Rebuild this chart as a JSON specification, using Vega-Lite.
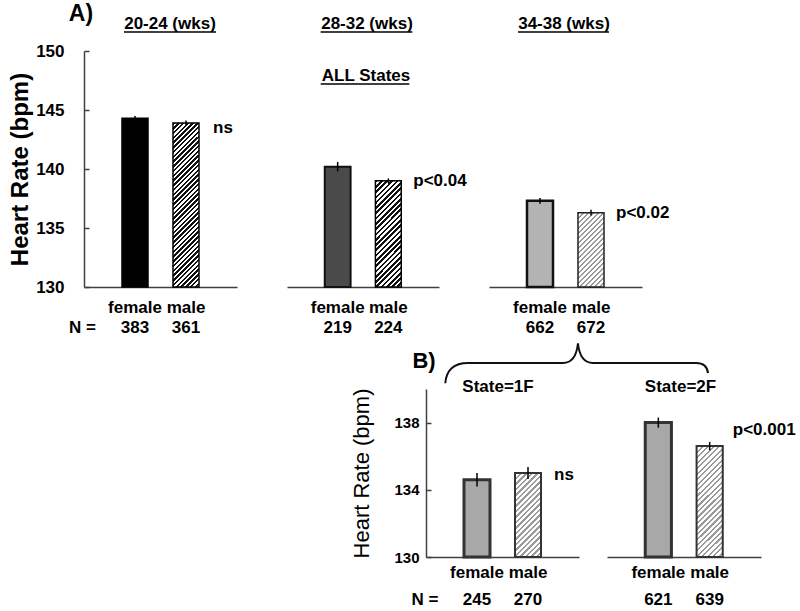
{
  "$schema": "https://vega.github.io/schema/vega-lite/v6.json",
  "padding": {"left": 8, "top": 3, "right": 5, "bottom": 5},
  "config": {
    "font": "Liberation Sans",
    "view": {"stroke": null},
    "axis": {"grid": false, "domainColor": "#404040", "domainWidth": 1.5, "tickColor": "#404040", "tickWidth": 1.5, "labelColor": "#000", "titleColor": "#000", "labelFontWeight": "bold", "labelOverlap": false},
    "axisY": {"labelOverlap": false},
    "axisQuantitative": {"labelOverlap": false},
    "text": {"font": "Liberation Sans", "fontWeight": "bold", "fontSize": 17, "color": "#000", "baseline": "alphabetic"}
  },
  "datasets": {
    "hr": [
      {"panel": "A", "group": "20-24 (wks)", "sex": "female", "hr": 144.3, "err": 0.2, "n": 383},
      {"panel": "A", "group": "20-24 (wks)", "sex": "male", "hr": 143.9, "err": 0.2, "n": 361, "sig": "ns"},
      {"panel": "A", "group": "28-32 (wks)", "sex": "female", "hr": 140.2, "err": 0.4, "n": 219},
      {"panel": "A", "group": "28-32 (wks)", "sex": "male", "hr": 139.0, "err": 0.2, "n": 224, "sig": "p<0.04"},
      {"panel": "A", "group": "34-38 (wks)", "sex": "female", "hr": 137.3, "err": 0.25, "n": 662},
      {"panel": "A", "group": "34-38 (wks)", "sex": "male", "hr": 136.3, "err": 0.25, "n": 672, "sig": "p<0.02"},
      {"panel": "B", "group": "State=1F", "sex": "female", "hr": 134.6, "err": 0.4, "n": 245},
      {"panel": "B", "group": "State=1F", "sex": "male", "hr": 135.0, "err": 0.35, "n": 270, "sig": "ns"},
      {"panel": "B", "group": "State=2F", "sex": "female", "hr": 138.0, "err": 0.3, "n": 621},
      {"panel": "B", "group": "State=2F", "sex": "male", "hr": 136.6, "err": 0.25, "n": 639, "sig": "p<0.001"}
    ]
  },
  "vconcat": [
    {
      "hconcat": [
        {
          "width": 153, "height": 236,
          "data": {"name": "hr"},
          "transform": [{"filter": "datum.group === '20-24 (wks)'"}],
          "layer": [
            {"transform": [{"filter": "datum.sex === 'female'"}],
             "mark": {"type": "bar", "fill": "#000", "stroke": "#000", "strokeWidth": 1.5},
             "encoding": {
               "x": {"field": "sex", "type": "nominal", "scale": {"domain": ["female", "male"], "paddingInner": 0.49, "paddingOuter": 0.745}, "axis": {"title": null, "ticks": false, "labelAngle": 0, "labelFontSize": 17, "labelPadding": 12}},
               "y": {"field": "hr", "type": "quantitative", "title": "Heart Rate (bpm)", "scale": {"domain": [130, 150], "zero": false, "nice": false}, "axis": {"title": "Heart Rate (bpm)", "titleFontSize": 24, "titleFontWeight": "bold", "labelFontSize": 17, "values": [130, 135, 140, 145, 150], "labelOverlap": false, "tickSize": -5, "labelPadding": 25, "titlePadding": 3}},
               "y2": {"datum": 130}
             }},
            {"transform": [{"filter": "datum.sex === 'male'"}],
             "mark": {"type": "bar", "stroke": "#000", "strokeWidth": 1.5, "fill": {"gradient": "linear", "x1": 0, "y1": 0, "x2": 0.179, "y2": 1.13, "stops": [
               {"offset":0,"color":"#111"},{"offset":0.0125,"color":"#111"},{"offset":0.0125,"color":"#fff"},{"offset":0.025,"color":"#fff"},
               {"offset":0.025,"color":"#111"},{"offset":0.0375,"color":"#111"},{"offset":0.0375,"color":"#fff"},{"offset":0.05,"color":"#fff"},
               {"offset":0.05,"color":"#111"},{"offset":0.0625,"color":"#111"},{"offset":0.0625,"color":"#fff"},{"offset":0.075,"color":"#fff"},
               {"offset":0.075,"color":"#111"},{"offset":0.0875,"color":"#111"},{"offset":0.0875,"color":"#fff"},{"offset":0.1,"color":"#fff"},
               {"offset":0.1,"color":"#111"},{"offset":0.1125,"color":"#111"},{"offset":0.1125,"color":"#fff"},{"offset":0.125,"color":"#fff"},
               {"offset":0.125,"color":"#111"},{"offset":0.1375,"color":"#111"},{"offset":0.1375,"color":"#fff"},{"offset":0.15,"color":"#fff"},
               {"offset":0.15,"color":"#111"},{"offset":0.1625,"color":"#111"},{"offset":0.1625,"color":"#fff"},{"offset":0.175,"color":"#fff"},
               {"offset":0.175,"color":"#111"},{"offset":0.1875,"color":"#111"},{"offset":0.1875,"color":"#fff"},{"offset":0.2,"color":"#fff"},
               {"offset":0.2,"color":"#111"},{"offset":0.2125,"color":"#111"},{"offset":0.2125,"color":"#fff"},{"offset":0.225,"color":"#fff"},
               {"offset":0.225,"color":"#111"},{"offset":0.2375,"color":"#111"},{"offset":0.2375,"color":"#fff"},{"offset":0.25,"color":"#fff"},
               {"offset":0.25,"color":"#111"},{"offset":0.2625,"color":"#111"},{"offset":0.2625,"color":"#fff"},{"offset":0.275,"color":"#fff"},
               {"offset":0.275,"color":"#111"},{"offset":0.2875,"color":"#111"},{"offset":0.2875,"color":"#fff"},{"offset":0.3,"color":"#fff"},
               {"offset":0.3,"color":"#111"},{"offset":0.3125,"color":"#111"},{"offset":0.3125,"color":"#fff"},{"offset":0.325,"color":"#fff"},
               {"offset":0.325,"color":"#111"},{"offset":0.3375,"color":"#111"},{"offset":0.3375,"color":"#fff"},{"offset":0.35,"color":"#fff"},
               {"offset":0.35,"color":"#111"},{"offset":0.3625,"color":"#111"},{"offset":0.3625,"color":"#fff"},{"offset":0.375,"color":"#fff"},
               {"offset":0.375,"color":"#111"},{"offset":0.3875,"color":"#111"},{"offset":0.3875,"color":"#fff"},{"offset":0.4,"color":"#fff"},
               {"offset":0.4,"color":"#111"},{"offset":0.4125,"color":"#111"},{"offset":0.4125,"color":"#fff"},{"offset":0.425,"color":"#fff"},
               {"offset":0.425,"color":"#111"},{"offset":0.4375,"color":"#111"},{"offset":0.4375,"color":"#fff"},{"offset":0.45,"color":"#fff"},
               {"offset":0.45,"color":"#111"},{"offset":0.4625,"color":"#111"},{"offset":0.4625,"color":"#fff"},{"offset":0.475,"color":"#fff"},
               {"offset":0.475,"color":"#111"},{"offset":0.4875,"color":"#111"},{"offset":0.4875,"color":"#fff"},{"offset":0.5,"color":"#fff"},
               {"offset":0.5,"color":"#111"},{"offset":0.5125,"color":"#111"},{"offset":0.5125,"color":"#fff"},{"offset":0.525,"color":"#fff"},
               {"offset":0.525,"color":"#111"},{"offset":0.5375,"color":"#111"},{"offset":0.5375,"color":"#fff"},{"offset":0.55,"color":"#fff"},
               {"offset":0.55,"color":"#111"},{"offset":0.5625,"color":"#111"},{"offset":0.5625,"color":"#fff"},{"offset":0.575,"color":"#fff"},
               {"offset":0.575,"color":"#111"},{"offset":0.5875,"color":"#111"},{"offset":0.5875,"color":"#fff"},{"offset":0.6,"color":"#fff"},
               {"offset":0.6,"color":"#111"},{"offset":0.6125,"color":"#111"},{"offset":0.6125,"color":"#fff"},{"offset":0.625,"color":"#fff"},
               {"offset":0.625,"color":"#111"},{"offset":0.6375,"color":"#111"},{"offset":0.6375,"color":"#fff"},{"offset":0.65,"color":"#fff"},
               {"offset":0.65,"color":"#111"},{"offset":0.6625,"color":"#111"},{"offset":0.6625,"color":"#fff"},{"offset":0.675,"color":"#fff"},
               {"offset":0.675,"color":"#111"},{"offset":0.6875,"color":"#111"},{"offset":0.6875,"color":"#fff"},{"offset":0.7,"color":"#fff"},
               {"offset":0.7,"color":"#111"},{"offset":0.7125,"color":"#111"},{"offset":0.7125,"color":"#fff"},{"offset":0.725,"color":"#fff"},
               {"offset":0.725,"color":"#111"},{"offset":0.7375,"color":"#111"},{"offset":0.7375,"color":"#fff"},{"offset":0.75,"color":"#fff"},
               {"offset":0.75,"color":"#111"},{"offset":0.7625,"color":"#111"},{"offset":0.7625,"color":"#fff"},{"offset":0.775,"color":"#fff"},
               {"offset":0.775,"color":"#111"},{"offset":0.7875,"color":"#111"},{"offset":0.7875,"color":"#fff"},{"offset":0.8,"color":"#fff"},
               {"offset":0.8,"color":"#111"},{"offset":0.8125,"color":"#111"},{"offset":0.8125,"color":"#fff"},{"offset":0.825,"color":"#fff"},
               {"offset":0.825,"color":"#111"},{"offset":0.8375,"color":"#111"},{"offset":0.8375,"color":"#fff"},{"offset":0.85,"color":"#fff"},
               {"offset":0.85,"color":"#111"},{"offset":0.8625,"color":"#111"},{"offset":0.8625,"color":"#fff"},{"offset":0.875,"color":"#fff"},
               {"offset":0.875,"color":"#111"},{"offset":0.8875,"color":"#111"},{"offset":0.8875,"color":"#fff"},{"offset":0.9,"color":"#fff"},
               {"offset":0.9,"color":"#111"},{"offset":0.9125,"color":"#111"},{"offset":0.9125,"color":"#fff"},{"offset":0.925,"color":"#fff"},
               {"offset":0.925,"color":"#111"},{"offset":0.9375,"color":"#111"},{"offset":0.9375,"color":"#fff"},{"offset":0.95,"color":"#fff"},
               {"offset":0.95,"color":"#111"},{"offset":0.9625,"color":"#111"},{"offset":0.9625,"color":"#fff"},{"offset":0.975,"color":"#fff"},
               {"offset":0.975,"color":"#111"},{"offset":0.9875,"color":"#111"},{"offset":0.9875,"color":"#fff"},{"offset":1,"color":"#fff"}
             ]}},
             "encoding": {"x": {"field": "sex", "type": "nominal"}, "y": {"field": "hr", "type": "quantitative", "title": "Heart Rate (bpm)", "scale": {"domain": [130, 150], "zero": false, "nice": false}}, "y2": {"datum": 130}}},
            {"mark": {"type": "errorbar", "ticks": false, "rule": {"stroke": "#000", "strokeWidth": 1.5}},
             "encoding": {"x": {"field": "sex", "type": "nominal"}, "y": {"field": "hr", "type": "quantitative", "title": "Heart Rate (bpm)", "scale": {"domain": [130, 150], "zero": false, "nice": false}}, "yError": {"field": "err"}}},
            {"transform": [{"filter": "datum.sex === 'female'"}],
             "mark": {"type": "text", "dx": 9.5},
             "encoding": {"y": {"datum": 151.86, "type": "quantitative", "scale": {"domain": [130, 150], "zero": false, "nice": false}}, "text": {"field": "group"}}},
            {"transform": [{"filter": "datum.sex === 'female'"}],
             "mark": {"type": "rule", "xOffset": -11, "x2Offset": 30, "stroke": "#000", "strokeWidth": 1.5},
             "encoding": {"x": {"datum": "female"}, "x2": {"datum": "male"}, "y": {"datum": 151.61, "type": "quantitative", "scale": {"domain": [130, 150], "zero": false, "nice": false}}}},
            {"transform": [{"filter": "datum.sex === 'female'"}],
             "mark": {"type": "text", "text": "A)", "fontSize": 23, "dx": -79.5},
             "encoding": {"y": {"datum": 152.54, "type": "quantitative", "scale": {"domain": [130, 150], "zero": false, "nice": false}}}},
            {"transform": [{"filter": "datum.sig"}],
             "mark": {"type": "text", "align": "left", "dx": 14},
             "encoding": {"x": {"field": "sex", "type": "nominal", "bandPosition": 1}, "y": {"datum": 143.05, "type": "quantitative", "scale": {"domain": [130, 150], "zero": false, "nice": false}}, "text": {"field": "sig"}}},
            {"mark": {"type": "text"},
             "encoding": {"x": {"field": "sex", "type": "nominal"}, "y": {"datum": 126.1, "type": "quantitative", "scale": {"domain": [130, 150], "zero": false, "nice": false}}, "text": {"field": "n"}}},
            {"transform": [{"filter": "datum.sex === 'female'"}],
             "mark": {"type": "text", "text": "N =", "dx": -78},
             "encoding": {"y": {"datum": 126.1, "type": "quantitative", "scale": {"domain": [130, 150], "zero": false, "nice": false}}}}
          ]
        },
        {
          "width": 152, "height": 236,
          "data": {"name": "hr"},
          "transform": [{"filter": "datum.group === '28-32 (wks)'"}],
          "layer": [
            {"transform": [{"filter": "datum.sex === 'female'"}],
             "mark": {"type": "bar", "fill": "#4a4a4a", "stroke": "#111", "strokeWidth": 2},
             "encoding": {
               "x": {"field": "sex", "type": "nominal", "scale": {"domain": ["female", "male"], "paddingInner": 0.49, "paddingOuter": 0.745}, "axis": {"title": null, "ticks": false, "labelAngle": 0, "labelFontSize": 17, "labelPadding": 12}},
               "y": {"field": "hr", "type": "quantitative", "scale": {"domain": [130, 150], "zero": false, "nice": false}, "axis": null},
               "y2": {"datum": 130}
             }},
            {"transform": [{"filter": "datum.sex === 'male'"}],
             "mark": {"type": "bar", "stroke": "#000", "strokeWidth": 1.5, "fill": {"gradient": "linear", "x1": 0, "y1": 0, "x2": 0.2876, "y2": 1.1745, "stops": [
               {"offset":0,"color":"#111"},{"offset":0.02,"color":"#111"},{"offset":0.02,"color":"#fff"},{"offset":0.04,"color":"#fff"},
               {"offset":0.04,"color":"#111"},{"offset":0.06,"color":"#111"},{"offset":0.06,"color":"#fff"},{"offset":0.08,"color":"#fff"},
               {"offset":0.08,"color":"#111"},{"offset":0.1,"color":"#111"},{"offset":0.1,"color":"#fff"},{"offset":0.12,"color":"#fff"},
               {"offset":0.12,"color":"#111"},{"offset":0.14,"color":"#111"},{"offset":0.14,"color":"#fff"},{"offset":0.16,"color":"#fff"},
               {"offset":0.16,"color":"#111"},{"offset":0.18,"color":"#111"},{"offset":0.18,"color":"#fff"},{"offset":0.2,"color":"#fff"},
               {"offset":0.2,"color":"#111"},{"offset":0.22,"color":"#111"},{"offset":0.22,"color":"#fff"},{"offset":0.24,"color":"#fff"},
               {"offset":0.24,"color":"#111"},{"offset":0.26,"color":"#111"},{"offset":0.26,"color":"#fff"},{"offset":0.28,"color":"#fff"},
               {"offset":0.28,"color":"#111"},{"offset":0.3,"color":"#111"},{"offset":0.3,"color":"#fff"},{"offset":0.32,"color":"#fff"},
               {"offset":0.32,"color":"#111"},{"offset":0.34,"color":"#111"},{"offset":0.34,"color":"#fff"},{"offset":0.36,"color":"#fff"},
               {"offset":0.36,"color":"#111"},{"offset":0.38,"color":"#111"},{"offset":0.38,"color":"#fff"},{"offset":0.4,"color":"#fff"},
               {"offset":0.4,"color":"#111"},{"offset":0.42,"color":"#111"},{"offset":0.42,"color":"#fff"},{"offset":0.44,"color":"#fff"},
               {"offset":0.44,"color":"#111"},{"offset":0.46,"color":"#111"},{"offset":0.46,"color":"#fff"},{"offset":0.48,"color":"#fff"},
               {"offset":0.48,"color":"#111"},{"offset":0.5,"color":"#111"},{"offset":0.5,"color":"#fff"},{"offset":0.52,"color":"#fff"},
               {"offset":0.52,"color":"#111"},{"offset":0.54,"color":"#111"},{"offset":0.54,"color":"#fff"},{"offset":0.56,"color":"#fff"},
               {"offset":0.56,"color":"#111"},{"offset":0.58,"color":"#111"},{"offset":0.58,"color":"#fff"},{"offset":0.6,"color":"#fff"},
               {"offset":0.6,"color":"#111"},{"offset":0.62,"color":"#111"},{"offset":0.62,"color":"#fff"},{"offset":0.64,"color":"#fff"},
               {"offset":0.64,"color":"#111"},{"offset":0.66,"color":"#111"},{"offset":0.66,"color":"#fff"},{"offset":0.68,"color":"#fff"},
               {"offset":0.68,"color":"#111"},{"offset":0.7,"color":"#111"},{"offset":0.7,"color":"#fff"},{"offset":0.72,"color":"#fff"},
               {"offset":0.72,"color":"#111"},{"offset":0.74,"color":"#111"},{"offset":0.74,"color":"#fff"},{"offset":0.76,"color":"#fff"},
               {"offset":0.76,"color":"#111"},{"offset":0.78,"color":"#111"},{"offset":0.78,"color":"#fff"},{"offset":0.8,"color":"#fff"},
               {"offset":0.8,"color":"#111"},{"offset":0.82,"color":"#111"},{"offset":0.82,"color":"#fff"},{"offset":0.84,"color":"#fff"},
               {"offset":0.84,"color":"#111"},{"offset":0.86,"color":"#111"},{"offset":0.86,"color":"#fff"},{"offset":0.88,"color":"#fff"},
               {"offset":0.88,"color":"#111"},{"offset":0.9,"color":"#111"},{"offset":0.9,"color":"#fff"},{"offset":0.92,"color":"#fff"},
               {"offset":0.92,"color":"#111"},{"offset":0.94,"color":"#111"},{"offset":0.94,"color":"#fff"},{"offset":0.96,"color":"#fff"},
               {"offset":0.96,"color":"#111"},{"offset":0.98,"color":"#111"},{"offset":0.98,"color":"#fff"},{"offset":1,"color":"#fff"}
             ]}},
             "encoding": {"x": {"field": "sex", "type": "nominal"}, "y": {"field": "hr", "type": "quantitative", "scale": {"domain": [130, 150], "zero": false, "nice": false}, "axis": null}, "y2": {"datum": 130}}},
            {"mark": {"type": "errorbar", "ticks": false, "rule": {"stroke": "#000", "strokeWidth": 1.5}},
             "encoding": {"x": {"field": "sex", "type": "nominal"}, "y": {"field": "hr", "type": "quantitative", "scale": {"domain": [130, 150], "zero": false, "nice": false}, "axis": null}, "yError": {"field": "err"}}},
            {"transform": [{"filter": "datum.sex === 'female'"}],
             "mark": {"type": "text", "dx": 4},
             "encoding": {"y": {"datum": 151.86, "type": "quantitative", "scale": {"domain": [130, 150], "zero": false, "nice": false}, "axis": null}, "text": {"field": "group"}}},
            {"transform": [{"filter": "datum.sex === 'female'"}],
             "mark": {"type": "rule", "xOffset": -17, "x2Offset": 24, "stroke": "#000", "strokeWidth": 1.5},
             "encoding": {"x": {"datum": "female"}, "x2": {"datum": "male"}, "y": {"datum": 151.61, "type": "quantitative", "scale": {"domain": [130, 150], "zero": false, "nice": false}, "axis": null}}},
            {"transform": [{"filter": "datum.sex === 'female'"}],
             "mark": {"type": "text", "text": "ALL States", "dx": 3},
             "encoding": {"y": {"datum": 147.46, "type": "quantitative", "scale": {"domain": [130, 150], "zero": false, "nice": false}, "axis": null}}},
            {"transform": [{"filter": "datum.sex === 'female'"}],
             "mark": {"type": "rule", "xOffset": -17, "x2Offset": 21, "stroke": "#000", "strokeWidth": 1.5},
             "encoding": {"x": {"datum": "female"}, "x2": {"datum": "male"}, "y": {"datum": 147.2, "type": "quantitative", "scale": {"domain": [130, 150], "zero": false, "nice": false}, "axis": null}}},
            {"transform": [{"filter": "datum.sig"}],
             "mark": {"type": "text", "align": "left", "dx": 12},
             "encoding": {"x": {"field": "sex", "type": "nominal", "bandPosition": 1}, "y": {"datum": 138.56, "type": "quantitative", "scale": {"domain": [130, 150], "zero": false, "nice": false}, "axis": null}, "text": {"field": "sig"}}},
            {"mark": {"type": "text"},
             "encoding": {"x": {"field": "sex", "type": "nominal"}, "y": {"datum": 126.1, "type": "quantitative", "scale": {"domain": [130, 150], "zero": false, "nice": false}, "axis": null}, "text": {"field": "n"}}}
          ]
        },
        {
          "width": 153, "height": 236,
          "data": {"name": "hr"},
          "transform": [{"filter": "datum.group === '34-38 (wks)'"}],
          "layer": [
            {"transform": [{"filter": "datum.sex === 'female'"}],
             "mark": {"type": "bar", "fill": "#b3b3b3", "stroke": "#111", "strokeWidth": 2.5},
             "encoding": {
               "x": {"field": "sex", "type": "nominal", "scale": {"domain": ["female", "male"], "paddingInner": 0.49, "paddingOuter": 0.745}, "axis": {"title": null, "ticks": false, "labelAngle": 0, "labelFontSize": 17, "labelPadding": 12}},
               "y": {"field": "hr", "type": "quantitative", "scale": {"domain": [130, 150], "zero": false, "nice": false}, "axis": null},
               "y2": {"datum": 130}
             }},
            {"transform": [{"filter": "datum.sex === 'male'"}],
             "mark": {"type": "bar", "stroke": "#222", "strokeWidth": 1.5, "fill": {"gradient": "linear", "x1": 0, "y1": 0, "x2": 0.4208, "y2": 1.2027, "stops": [
               {"offset":0,"color":"#9a9a9a"},{"offset":0.02,"color":"#9a9a9a"},{"offset":0.02,"color":"#fff"},{"offset":0.05,"color":"#fff"},
               {"offset":0.05,"color":"#9a9a9a"},{"offset":0.07,"color":"#9a9a9a"},{"offset":0.07,"color":"#fff"},{"offset":0.1,"color":"#fff"},
               {"offset":0.1,"color":"#9a9a9a"},{"offset":0.12,"color":"#9a9a9a"},{"offset":0.12,"color":"#fff"},{"offset":0.15,"color":"#fff"},
               {"offset":0.15,"color":"#9a9a9a"},{"offset":0.17,"color":"#9a9a9a"},{"offset":0.17,"color":"#fff"},{"offset":0.2,"color":"#fff"},
               {"offset":0.2,"color":"#9a9a9a"},{"offset":0.22,"color":"#9a9a9a"},{"offset":0.22,"color":"#fff"},{"offset":0.25,"color":"#fff"},
               {"offset":0.25,"color":"#9a9a9a"},{"offset":0.27,"color":"#9a9a9a"},{"offset":0.27,"color":"#fff"},{"offset":0.3,"color":"#fff"},
               {"offset":0.3,"color":"#9a9a9a"},{"offset":0.32,"color":"#9a9a9a"},{"offset":0.32,"color":"#fff"},{"offset":0.35,"color":"#fff"},
               {"offset":0.35,"color":"#9a9a9a"},{"offset":0.37,"color":"#9a9a9a"},{"offset":0.37,"color":"#fff"},{"offset":0.4,"color":"#fff"},
               {"offset":0.4,"color":"#9a9a9a"},{"offset":0.42,"color":"#9a9a9a"},{"offset":0.42,"color":"#fff"},{"offset":0.45,"color":"#fff"},
               {"offset":0.45,"color":"#9a9a9a"},{"offset":0.47,"color":"#9a9a9a"},{"offset":0.47,"color":"#fff"},{"offset":0.5,"color":"#fff"},
               {"offset":0.5,"color":"#9a9a9a"},{"offset":0.52,"color":"#9a9a9a"},{"offset":0.52,"color":"#fff"},{"offset":0.55,"color":"#fff"},
               {"offset":0.55,"color":"#9a9a9a"},{"offset":0.57,"color":"#9a9a9a"},{"offset":0.57,"color":"#fff"},{"offset":0.6,"color":"#fff"},
               {"offset":0.6,"color":"#9a9a9a"},{"offset":0.62,"color":"#9a9a9a"},{"offset":0.62,"color":"#fff"},{"offset":0.65,"color":"#fff"},
               {"offset":0.65,"color":"#9a9a9a"},{"offset":0.67,"color":"#9a9a9a"},{"offset":0.67,"color":"#fff"},{"offset":0.7,"color":"#fff"},
               {"offset":0.7,"color":"#9a9a9a"},{"offset":0.72,"color":"#9a9a9a"},{"offset":0.72,"color":"#fff"},{"offset":0.75,"color":"#fff"},
               {"offset":0.75,"color":"#9a9a9a"},{"offset":0.77,"color":"#9a9a9a"},{"offset":0.77,"color":"#fff"},{"offset":0.8,"color":"#fff"},
               {"offset":0.8,"color":"#9a9a9a"},{"offset":0.82,"color":"#9a9a9a"},{"offset":0.82,"color":"#fff"},{"offset":0.85,"color":"#fff"},
               {"offset":0.85,"color":"#9a9a9a"},{"offset":0.87,"color":"#9a9a9a"},{"offset":0.87,"color":"#fff"},{"offset":0.9,"color":"#fff"},
               {"offset":0.9,"color":"#9a9a9a"},{"offset":0.92,"color":"#9a9a9a"},{"offset":0.92,"color":"#fff"},{"offset":0.95,"color":"#fff"},
               {"offset":0.95,"color":"#9a9a9a"},{"offset":0.97,"color":"#9a9a9a"},{"offset":0.97,"color":"#fff"},{"offset":1,"color":"#fff"}
             ]}},
             "encoding": {"x": {"field": "sex", "type": "nominal"}, "y": {"field": "hr", "type": "quantitative", "scale": {"domain": [130, 150], "zero": false, "nice": false}, "axis": null}, "y2": {"datum": 130}}},
            {"mark": {"type": "errorbar", "ticks": false, "rule": {"stroke": "#000", "strokeWidth": 1.5}},
             "encoding": {"x": {"field": "sex", "type": "nominal"}, "y": {"field": "hr", "type": "quantitative", "scale": {"domain": [130, 150], "zero": false, "nice": false}, "axis": null}, "yError": {"field": "err"}}},
            {"transform": [{"filter": "datum.sex === 'female'"}],
             "mark": {"type": "text", "dx": -1.5},
             "encoding": {"y": {"datum": 151.86, "type": "quantitative", "scale": {"domain": [130, 150], "zero": false, "nice": false}, "axis": null}, "text": {"field": "group"}}},
            {"transform": [{"filter": "datum.sex === 'female'"}],
             "mark": {"type": "rule", "xOffset": -22, "x2Offset": 18, "stroke": "#000", "strokeWidth": 1.5},
             "encoding": {"x": {"datum": "female"}, "x2": {"datum": "male"}, "y": {"datum": 151.61, "type": "quantitative", "scale": {"domain": [130, 150], "zero": false, "nice": false}, "axis": null}}},
            {"transform": [{"filter": "datum.sig"}],
             "mark": {"type": "text", "align": "left", "dx": 12},
             "encoding": {"x": {"field": "sex", "type": "nominal", "bandPosition": 1}, "y": {"datum": 135.85, "type": "quantitative", "scale": {"domain": [130, 150], "zero": false, "nice": false}, "axis": null}, "text": {"field": "sig"}}},
            {"mark": {"type": "text"},
             "encoding": {"x": {"field": "sex", "type": "nominal"}, "y": {"datum": 126.1, "type": "quantitative", "scale": {"domain": [130, 150], "zero": false, "nice": false}, "axis": null}, "text": {"field": "n"}}}
          ]
        }
      ],
      "spacing": 50,
      "bounds": "flush"
    },
    {
      "hconcat": [
        {
          "width": 314, "height": 168,
          "data": {"values": [{}]},
          "mark": {"type": "text", "text": ""}
        },
        {
          "width": 153, "height": 168,
          "data": {"name": "hr"},
          "transform": [{"filter": "datum.group === 'State=1F'"}],
          "layer": [
            {"transform": [{"filter": "datum.sex === 'female'"}],
             "mark": {"type": "bar", "fill": "#a8a8a8", "stroke": "#333", "strokeWidth": 3},
             "encoding": {
               "x": {"field": "sex", "type": "nominal", "scale": {"domain": ["female", "male"], "paddingInner": 0.49, "paddingOuter": 0.745}, "axis": {"title": null, "ticks": false, "labelAngle": 0, "labelFontSize": 17, "labelPadding": 7}},
               "y": {"field": "hr", "type": "quantitative", "title": "Heart Rate (bpm)", "scale": {"domain": [130, 140], "zero": false, "nice": false}, "axis": {"title": "Heart Rate (bpm)", "titleFontSize": 22, "titleFontWeight": "normal", "labelFontSize": 15, "values": [130, 132, 134, 136, 138, 140], "labelOverlap": false, "labelBound": false, "tickSize": -5, "labelPadding": 12, "titlePadding": 20}},
               "y2": {"datum": 130}
             }},
            {"transform": [{"filter": "datum.sex === 'male'"}],
             "mark": {"type": "bar", "stroke": "#333", "strokeWidth": 2, "fill": {"gradient": "linear", "x1": 0, "y1": 0, "x2": 0.37, "y2": 1.195, "stops": [
               {"offset":0,"color":"#9a9a9a"},{"offset":0.02,"color":"#9a9a9a"},{"offset":0.02,"color":"#fff"},{"offset":0.05,"color":"#fff"},
               {"offset":0.05,"color":"#9a9a9a"},{"offset":0.07,"color":"#9a9a9a"},{"offset":0.07,"color":"#fff"},{"offset":0.1,"color":"#fff"},
               {"offset":0.1,"color":"#9a9a9a"},{"offset":0.12,"color":"#9a9a9a"},{"offset":0.12,"color":"#fff"},{"offset":0.15,"color":"#fff"},
               {"offset":0.15,"color":"#9a9a9a"},{"offset":0.17,"color":"#9a9a9a"},{"offset":0.17,"color":"#fff"},{"offset":0.2,"color":"#fff"},
               {"offset":0.2,"color":"#9a9a9a"},{"offset":0.22,"color":"#9a9a9a"},{"offset":0.22,"color":"#fff"},{"offset":0.25,"color":"#fff"},
               {"offset":0.25,"color":"#9a9a9a"},{"offset":0.27,"color":"#9a9a9a"},{"offset":0.27,"color":"#fff"},{"offset":0.3,"color":"#fff"},
               {"offset":0.3,"color":"#9a9a9a"},{"offset":0.32,"color":"#9a9a9a"},{"offset":0.32,"color":"#fff"},{"offset":0.35,"color":"#fff"},
               {"offset":0.35,"color":"#9a9a9a"},{"offset":0.37,"color":"#9a9a9a"},{"offset":0.37,"color":"#fff"},{"offset":0.4,"color":"#fff"},
               {"offset":0.4,"color":"#9a9a9a"},{"offset":0.42,"color":"#9a9a9a"},{"offset":0.42,"color":"#fff"},{"offset":0.45,"color":"#fff"},
               {"offset":0.45,"color":"#9a9a9a"},{"offset":0.47,"color":"#9a9a9a"},{"offset":0.47,"color":"#fff"},{"offset":0.5,"color":"#fff"},
               {"offset":0.5,"color":"#9a9a9a"},{"offset":0.52,"color":"#9a9a9a"},{"offset":0.52,"color":"#fff"},{"offset":0.55,"color":"#fff"},
               {"offset":0.55,"color":"#9a9a9a"},{"offset":0.57,"color":"#9a9a9a"},{"offset":0.57,"color":"#fff"},{"offset":0.6,"color":"#fff"},
               {"offset":0.6,"color":"#9a9a9a"},{"offset":0.62,"color":"#9a9a9a"},{"offset":0.62,"color":"#fff"},{"offset":0.65,"color":"#fff"},
               {"offset":0.65,"color":"#9a9a9a"},{"offset":0.67,"color":"#9a9a9a"},{"offset":0.67,"color":"#fff"},{"offset":0.7,"color":"#fff"},
               {"offset":0.7,"color":"#9a9a9a"},{"offset":0.72,"color":"#9a9a9a"},{"offset":0.72,"color":"#fff"},{"offset":0.75,"color":"#fff"},
               {"offset":0.75,"color":"#9a9a9a"},{"offset":0.77,"color":"#9a9a9a"},{"offset":0.77,"color":"#fff"},{"offset":0.8,"color":"#fff"},
               {"offset":0.8,"color":"#9a9a9a"},{"offset":0.82,"color":"#9a9a9a"},{"offset":0.82,"color":"#fff"},{"offset":0.85,"color":"#fff"},
               {"offset":0.85,"color":"#9a9a9a"},{"offset":0.87,"color":"#9a9a9a"},{"offset":0.87,"color":"#fff"},{"offset":0.9,"color":"#fff"},
               {"offset":0.9,"color":"#9a9a9a"},{"offset":0.92,"color":"#9a9a9a"},{"offset":0.92,"color":"#fff"},{"offset":0.95,"color":"#fff"},
               {"offset":0.95,"color":"#9a9a9a"},{"offset":0.97,"color":"#9a9a9a"},{"offset":0.97,"color":"#fff"},{"offset":1,"color":"#fff"}
             ]}},
             "encoding": {"x": {"field": "sex", "type": "nominal"}, "y": {"field": "hr", "type": "quantitative", "title": "Heart Rate (bpm)", "scale": {"domain": [130, 140], "zero": false, "nice": false}, "axis": {"title": "Heart Rate (bpm)", "titleFontSize": 22, "titleFontWeight": "normal", "labelFontSize": 15, "values": [130, 132, 134, 136, 138, 140], "labelOverlap": false, "labelBound": false, "tickSize": -5, "labelPadding": 12, "titlePadding": 20}}, "y2": {"datum": 130}}},
            {"mark": {"type": "errorbar", "ticks": false, "rule": {"stroke": "#000", "strokeWidth": 1.5}},
             "encoding": {"x": {"field": "sex", "type": "nominal"}, "y": {"field": "hr", "type": "quantitative", "title": "Heart Rate (bpm)", "scale": {"domain": [130, 140], "zero": false, "nice": false}, "axis": {"title": "Heart Rate (bpm)", "titleFontSize": 22, "titleFontWeight": "normal", "labelFontSize": 15, "values": [130, 132, 134, 136, 138, 140], "labelOverlap": false, "labelBound": false, "tickSize": -5, "labelPadding": 12, "titlePadding": 20}}, "yError": {"field": "err"}}},
            {"transform": [{"filter": "datum.sex === 'female'"}],
             "mark": {"type": "text", "dx": -4.5},
             "encoding": {"y": {"datum": 139.82, "type": "quantitative", "scale": {"domain": [130, 140], "zero": false, "nice": false}}, "text": {"field": "group"}}},
            {"transform": [{"filter": "datum.sex === 'female'"}],
             "mark": {"type": "text", "text": "B)", "fontSize": 22, "dx": -78.5},
             "encoding": {"y": {"datum": 141.25, "type": "quantitative", "scale": {"domain": [130, 140], "zero": false, "nice": false}}}},
            {"transform": [{"filter": "datum.sex === 'female'"}],
             "mark": {"type": "point", "shape": "M -0.998 0.154 Q -0.985 0 -0.825 0 L -0.103 0 Q -0.004 0 0.011 -0.15 Q 0.027 0 0.125 0 L 0.909 0 Q 0.992 0 1 0.078", "size": 69169, "filled": false, "stroke": "#111", "strokeWidth": 2, "opacity": 1, "xOffset": 74},
             "encoding": {"y": {"datum": 141.55, "type": "quantitative", "scale": {"domain": [130, 140], "zero": false, "nice": false}}}},
            {"transform": [{"filter": "datum.sig"}],
             "mark": {"type": "text", "align": "left", "dx": 13},
             "encoding": {"x": {"field": "sex", "type": "nominal", "bandPosition": 1}, "y": {"datum": 134.58, "type": "quantitative", "scale": {"domain": [130, 140], "zero": false, "nice": false}}, "text": {"field": "sig"}}},
            {"mark": {"type": "text"},
             "encoding": {"x": {"field": "sex", "type": "nominal"}, "y": {"datum": 127.14, "type": "quantitative", "scale": {"domain": [130, 140], "zero": false, "nice": false}}, "text": {"field": "n"}}},
            {"transform": [{"filter": "datum.sex === 'female'"}],
             "mark": {"type": "text", "text": "N =", "dx": -77.5},
             "encoding": {"y": {"datum": 127.14, "type": "quantitative", "scale": {"domain": [130, 140], "zero": false, "nice": false}}}}
          ]
        },
        {
          "width": 154, "height": 168,
          "data": {"name": "hr"},
          "transform": [{"filter": "datum.group === 'State=2F'"}],
          "layer": [
            {"transform": [{"filter": "datum.sex === 'female'"}],
             "mark": {"type": "bar", "fill": "#a8a8a8", "stroke": "#333", "strokeWidth": 3},
             "encoding": {
               "x": {"field": "sex", "type": "nominal", "scale": {"domain": ["female", "male"], "paddingInner": 0.49, "paddingOuter": 0.745}, "axis": {"title": null, "ticks": false, "labelAngle": 0, "labelFontSize": 17, "labelPadding": 7}},
               "y": {"field": "hr", "type": "quantitative", "scale": {"domain": [130, 140], "zero": false, "nice": false}, "axis": null},
               "y2": {"datum": 130}
             }},
            {"transform": [{"filter": "datum.sex === 'male'"}],
             "mark": {"type": "bar", "stroke": "#333", "strokeWidth": 2, "fill": {"gradient": "linear", "x1": 0, "y1": 0, "x2": 0.2745, "y2": 1.1702, "stops": [
               {"offset":0,"color":"#9a9a9a"},{"offset":0.016,"color":"#9a9a9a"},{"offset":0.016,"color":"#fff"},{"offset":0.04,"color":"#fff"},
               {"offset":0.04,"color":"#9a9a9a"},{"offset":0.056,"color":"#9a9a9a"},{"offset":0.056,"color":"#fff"},{"offset":0.08,"color":"#fff"},
               {"offset":0.08,"color":"#9a9a9a"},{"offset":0.096,"color":"#9a9a9a"},{"offset":0.096,"color":"#fff"},{"offset":0.12,"color":"#fff"},
               {"offset":0.12,"color":"#9a9a9a"},{"offset":0.136,"color":"#9a9a9a"},{"offset":0.136,"color":"#fff"},{"offset":0.16,"color":"#fff"},
               {"offset":0.16,"color":"#9a9a9a"},{"offset":0.176,"color":"#9a9a9a"},{"offset":0.176,"color":"#fff"},{"offset":0.2,"color":"#fff"},
               {"offset":0.2,"color":"#9a9a9a"},{"offset":0.216,"color":"#9a9a9a"},{"offset":0.216,"color":"#fff"},{"offset":0.24,"color":"#fff"},
               {"offset":0.24,"color":"#9a9a9a"},{"offset":0.256,"color":"#9a9a9a"},{"offset":0.256,"color":"#fff"},{"offset":0.28,"color":"#fff"},
               {"offset":0.28,"color":"#9a9a9a"},{"offset":0.296,"color":"#9a9a9a"},{"offset":0.296,"color":"#fff"},{"offset":0.32,"color":"#fff"},
               {"offset":0.32,"color":"#9a9a9a"},{"offset":0.336,"color":"#9a9a9a"},{"offset":0.336,"color":"#fff"},{"offset":0.36,"color":"#fff"},
               {"offset":0.36,"color":"#9a9a9a"},{"offset":0.376,"color":"#9a9a9a"},{"offset":0.376,"color":"#fff"},{"offset":0.4,"color":"#fff"},
               {"offset":0.4,"color":"#9a9a9a"},{"offset":0.416,"color":"#9a9a9a"},{"offset":0.416,"color":"#fff"},{"offset":0.44,"color":"#fff"},
               {"offset":0.44,"color":"#9a9a9a"},{"offset":0.456,"color":"#9a9a9a"},{"offset":0.456,"color":"#fff"},{"offset":0.48,"color":"#fff"},
               {"offset":0.48,"color":"#9a9a9a"},{"offset":0.496,"color":"#9a9a9a"},{"offset":0.496,"color":"#fff"},{"offset":0.52,"color":"#fff"},
               {"offset":0.52,"color":"#9a9a9a"},{"offset":0.536,"color":"#9a9a9a"},{"offset":0.536,"color":"#fff"},{"offset":0.56,"color":"#fff"},
               {"offset":0.56,"color":"#9a9a9a"},{"offset":0.576,"color":"#9a9a9a"},{"offset":0.576,"color":"#fff"},{"offset":0.6,"color":"#fff"},
               {"offset":0.6,"color":"#9a9a9a"},{"offset":0.616,"color":"#9a9a9a"},{"offset":0.616,"color":"#fff"},{"offset":0.64,"color":"#fff"},
               {"offset":0.64,"color":"#9a9a9a"},{"offset":0.656,"color":"#9a9a9a"},{"offset":0.656,"color":"#fff"},{"offset":0.68,"color":"#fff"},
               {"offset":0.68,"color":"#9a9a9a"},{"offset":0.696,"color":"#9a9a9a"},{"offset":0.696,"color":"#fff"},{"offset":0.72,"color":"#fff"},
               {"offset":0.72,"color":"#9a9a9a"},{"offset":0.736,"color":"#9a9a9a"},{"offset":0.736,"color":"#fff"},{"offset":0.76,"color":"#fff"},
               {"offset":0.76,"color":"#9a9a9a"},{"offset":0.776,"color":"#9a9a9a"},{"offset":0.776,"color":"#fff"},{"offset":0.8,"color":"#fff"},
               {"offset":0.8,"color":"#9a9a9a"},{"offset":0.816,"color":"#9a9a9a"},{"offset":0.816,"color":"#fff"},{"offset":0.84,"color":"#fff"},
               {"offset":0.84,"color":"#9a9a9a"},{"offset":0.856,"color":"#9a9a9a"},{"offset":0.856,"color":"#fff"},{"offset":0.88,"color":"#fff"},
               {"offset":0.88,"color":"#9a9a9a"},{"offset":0.896,"color":"#9a9a9a"},{"offset":0.896,"color":"#fff"},{"offset":0.92,"color":"#fff"},
               {"offset":0.92,"color":"#9a9a9a"},{"offset":0.936,"color":"#9a9a9a"},{"offset":0.936,"color":"#fff"},{"offset":0.96,"color":"#fff"},
               {"offset":0.96,"color":"#9a9a9a"},{"offset":0.976,"color":"#9a9a9a"},{"offset":0.976,"color":"#fff"},{"offset":1,"color":"#fff"}
             ]}},
             "encoding": {"x": {"field": "sex", "type": "nominal"}, "y": {"field": "hr", "type": "quantitative", "scale": {"domain": [130, 140], "zero": false, "nice": false}, "axis": null}, "y2": {"datum": 130}}},
            {"mark": {"type": "errorbar", "ticks": false, "rule": {"stroke": "#000", "strokeWidth": 1.5}},
             "encoding": {"x": {"field": "sex", "type": "nominal"}, "y": {"field": "hr", "type": "quantitative", "scale": {"domain": [130, 140], "zero": false, "nice": false}, "axis": null}, "yError": {"field": "err"}}},
            {"transform": [{"filter": "datum.sex === 'female'"}],
             "mark": {"type": "text", "dx": -3.5},
             "encoding": {"y": {"datum": 139.82, "type": "quantitative", "scale": {"domain": [130, 140], "zero": false, "nice": false}, "axis": null}, "text": {"field": "group"}}},
            {"transform": [{"filter": "datum.sig"}],
             "mark": {"type": "text", "align": "left", "dx": 10},
             "encoding": {"x": {"field": "sex", "type": "nominal", "bandPosition": 1}, "y": {"datum": 137.26, "type": "quantitative", "scale": {"domain": [130, 140], "zero": false, "nice": false}, "axis": null}, "text": {"field": "sig"}}},
            {"mark": {"type": "text"},
             "encoding": {"x": {"field": "sex", "type": "nominal"}, "y": {"datum": 127.14, "type": "quantitative", "scale": {"domain": [130, 140], "zero": false, "nice": false}, "axis": null}, "text": {"field": "n"}}}
          ]
        }
      ],
      "spacing": 28,
      "bounds": "flush"
    }
  ],
  "spacing": 2
}
